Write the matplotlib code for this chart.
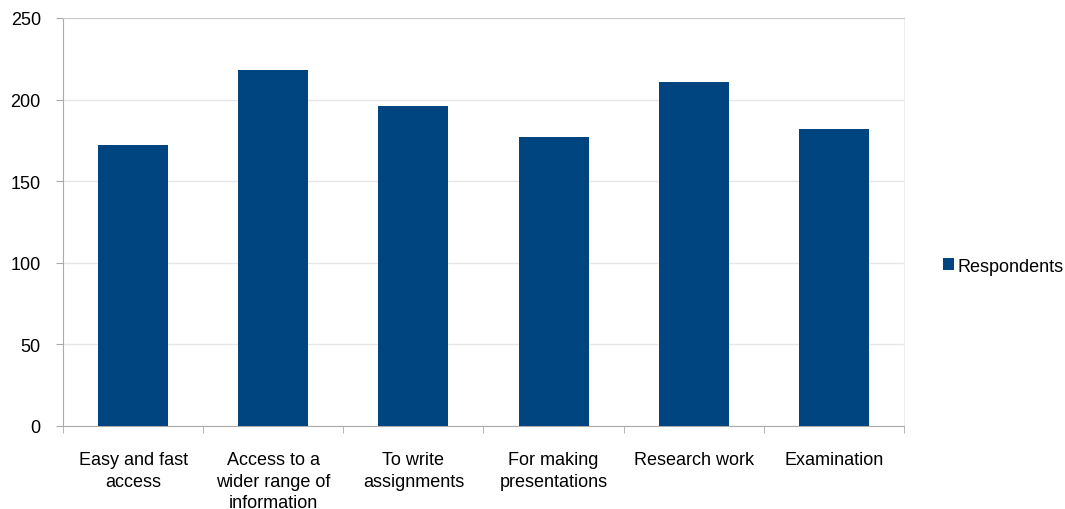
import numpy as np
import matplotlib.pyplot as plt

plt.rcParams['font.family'] = ['Liberation Sans', 'DejaVu Sans']

categories = ['Easy and fast\naccess', 'Access to a\nwider range of\ninformation',
              'To write\nassignments', 'For making\npresentations',
              'Research work', 'Examination']
respondents = [172, 218, 196, 177, 211, 182]

bar_color = '#00457f'
axis_color = '#aaaaaa'

fig = plt.figure(figsize=(10.65, 5.10), dpi=100)
ax = fig.add_axes([63 / 1065, 83 / 510, 841 / 1065, 408 / 510])

x = np.arange(len(categories))
ax.bar(x, respondents, width=0.5, color=bar_color, label='Respondents', zorder=3)

ax.set_xlim(-0.5, len(categories) - 0.5)
ax.set_ylim(0, 250)
ax.set_yticks(np.arange(0, 251, 50))
ax.yaxis.grid(True, color='#e6e6e6', linewidth=1, zorder=0)

# category labels centred under bars, small ticks on the boundaries
ax.set_xticks(x)
ax.set_xticklabels(categories, fontsize=13, linespacing=1.35, va='top')
ax.set_xticks(np.arange(-0.5, len(categories)), minor=True)
ax.tick_params(axis='x', which='major', length=0, pad=18)
ax.tick_params(axis='x', which='minor', length=5, color=axis_color, direction='out')
ax.tick_params(axis='y', length=5, color=axis_color, labelsize=13, pad=11)

for side in ['left', 'bottom']:
    ax.spines[side].set_color(axis_color)
ax.spines['top'].set_color('#cccccc')
ax.spines['right'].set_color('#eeeeee')

ax.legend(loc='center left', bbox_to_anchor=(943 / 1065, 243 / 510),
          bbox_transform=fig.transFigure, frameon=False, borderaxespad=0,
          borderpad=0, fontsize=13, handlelength=0.6, handleheight=0.6,
          handletextpad=0.2)

fig.savefig('out.png', dpi=100)
